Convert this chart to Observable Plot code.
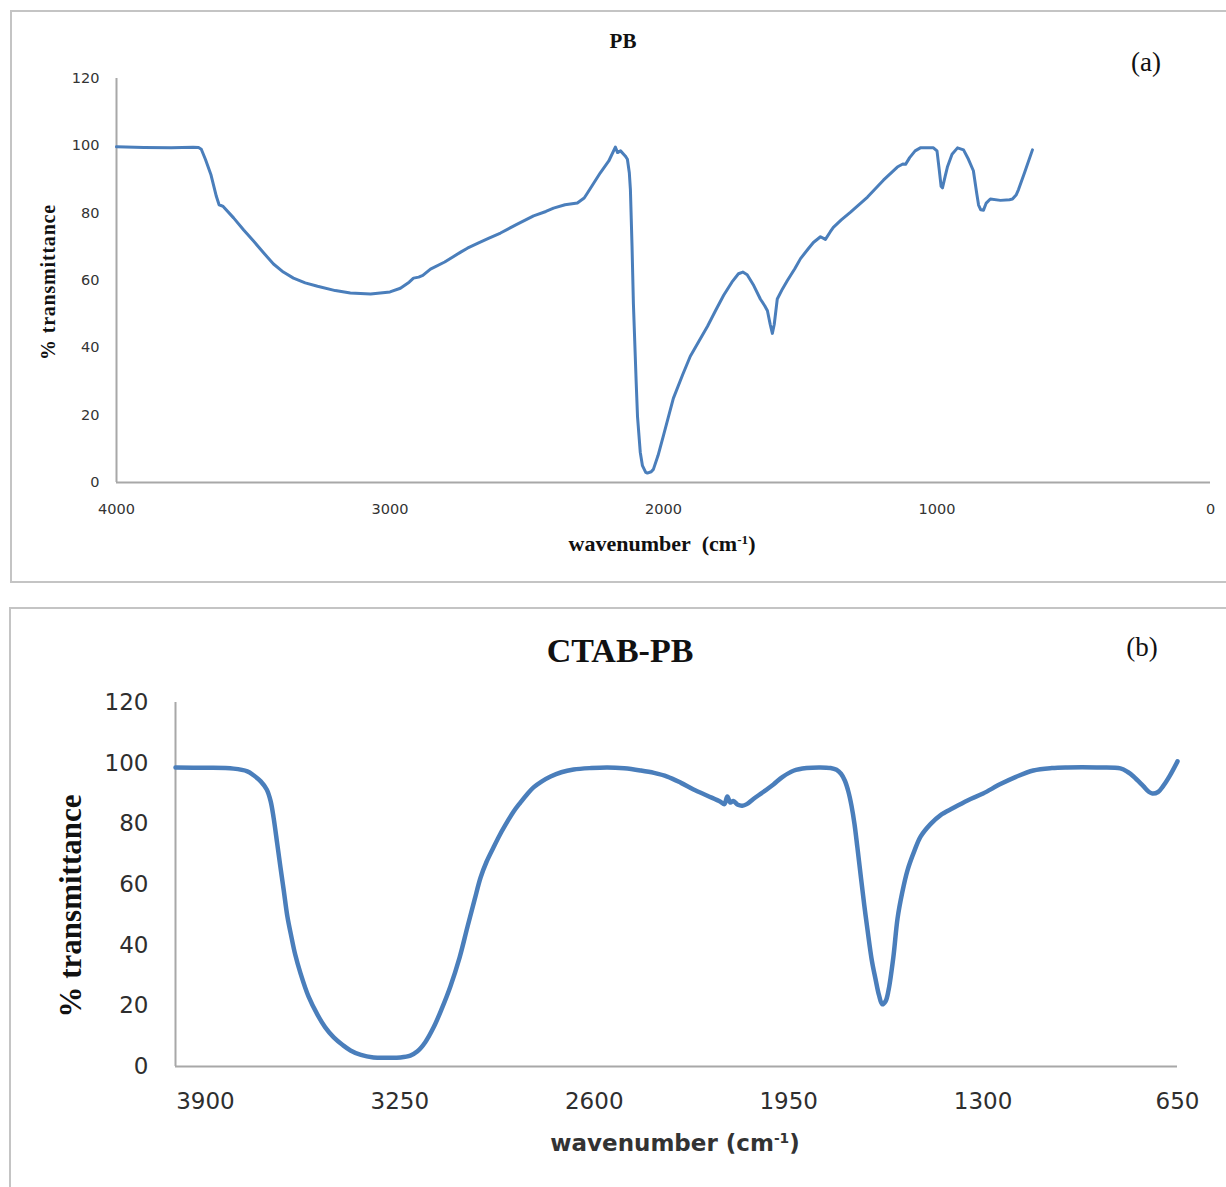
<!DOCTYPE html>
<html>
<head>
<meta charset="utf-8">
<script src="https://cdn.jsdelivr.net/npm/d3@7"></script>
<script src="https://cdn.jsdelivr.net/npm/@observablehq/plot@0.6"></script>
<style>
  html, body { margin: 0; padding: 0; background: #fff; }
  #page { position: relative; width: 1226px; height: 1187px; overflow: hidden; background: #fff; }
  .frame { position: absolute; border: 2px solid #c4c4c4; box-sizing: border-box; }
  .plot { position: absolute; left: 0; }
  .t { position: absolute; transform: translate(-50%, -50%); white-space: nowrap; line-height: 1; color: #111; }
  .serif { font-family: "Liberation Serif", "DejaVu Serif", serif; }
  .sans { font-family: "DejaVu Sans", sans-serif; }
  sup { font-size: 0.6em; vertical-align: 0.55em; line-height: 0; }
</style>
</head>
<body>
<div id="page">
  <div class="frame" style="left:10px; top:10px; width:1240px; height:573px;"></div>
  <div class="frame" style="left:9px; top:607px; width:1240px; height:620px;"></div>
  <div id="plotA" class="plot" style="top:0px;"></div>
  <div id="plotB" class="plot" style="top:595px;"></div>

  <div class="t serif" style="left:623px; top:41px; font-size:21px; font-weight:bold;">PB</div>
  <div class="t serif" style="left:1146px; top:62px; font-size:27px;">(a)</div>
  <div class="t serif" style="left:48px; top:282px; font-size:20px; font-weight:bold; letter-spacing:0.8px; transform:translate(-50%,-50%) rotate(-90deg);">% transmittance</div>
  <div class="t serif" style="left:662px; top:544px; font-size:22px; font-weight:bold;">wavenumber&nbsp; (cm<sup>-1</sup>)</div>

  <div class="t serif" style="left:620px; top:651px; font-size:34px; font-weight:bold;">CTAB-PB</div>
  <div class="t serif" style="left:1142px; top:647px; font-size:27px;">(b)</div>
  <div class="t serif" style="left:70px; top:906px; font-size:31px; font-weight:bold; transform:translate(-50%,-50%) rotate(-90deg);">% transmittance</div>
  <div class="t sans" style="left:675px; top:1143px; font-size:23px; font-weight:bold; color:#333;">wavenumber (cm<sup>-1</sup>)</div>
</div>
<script>
// ---------- Data ----------
const yTicks = [0, 20, 40, 60, 80, 100, 120];
const xTicksA = [4000, 3000, 2000, 1000, 0];
const xTicksB = [3900, 3250, 2600, 1950, 1300, 650];

// PB spectrum (panel a): wavenumber (cm-1) and % transmittance
const pbWavenumber = [4000,3900,3800,3720,3700,3690,3675,3655,3635,3625,3610,3572,3535,3499,3460,3426,3390,3353,3310,3265,3200,3145,3071,3000,2962,2930,2914,2895,2880,2852,2800,2740,2717,2680,2640,2596,2540,2475,2430,2402,2360,2315,2290,2278,2231,2200,2176,2168,2157,2140,2132,2125,2121,2115,2110,2100,2095,2085,2077,2065,2059,2045,2037,2020,2000,1964,1930,1902,1870,1839,1810,1780,1750,1726,1710,1694,1670,1646,1630,1620,1610,1602,1595,1584,1565,1547,1520,1499,1470,1452,1426,1408,1390,1379,1350,1316,1254,1196,1145,1125,1115,1100,1080,1061,1013,1000,992,985,980,970,962,945,925,903,885,867,855,848,840,830,820,805,768,735,724,710,702,680,651];
const pbTransmittance = [99.7,99.5,99.4,99.6,99.5,99,96,91.5,85,82.5,82,78.6,75,71.7,68,64.9,62.5,60.7,59.3,58.3,57,56.3,56,56.6,57.7,59.5,60.7,61,61.5,63.4,65.5,68.5,69.6,71,72.5,74.1,76.5,79.2,80.5,81.5,82.5,83,84.5,86,92,95.5,99.6,98,98.5,97,96,92,87,70,53,30,19.6,9,5,3,2.8,3.2,3.9,8,14,25,32,37.5,42,46.4,51,55.6,59.5,62,62.5,61.7,58.5,54.5,52.5,51,47,44.3,47,54.5,57.5,60,63.5,66.5,69.5,71.3,73,72.2,74.5,75.8,78,80.3,84.8,89.8,93.7,94.6,94.5,96.5,98.5,99.4,99.4,98.5,93,88,87.5,91,93.7,97.5,99.4,98.8,96,92.6,86,82.4,81,80.9,83,84.2,83.8,84,84.2,85.5,87,92,98.8];

// CTAB-PB spectrum (panel b)
const ctabWavenumber = [4000,3900,3806,3760,3739,3715,3695,3682,3672,3660,3649,3638,3626,3612,3600,3582,3555,3525,3500,3471,3440,3415,3380,3338,3290,3248,3215,3191,3165,3137,3110,3081,3050,3024,3000,2980,2960,2937,2915,2890,2870,2847,2825,2803,2775,2746,2710,2669,2610,2556,2500,2446,2400,2356,2310,2268,2220,2178,2165,2155,2145,2135,2120,2105,2090,2068,2035,2001,1970,1934,1890,1844,1810,1790,1775,1762,1750,1740,1730,1720,1708,1697,1687,1672,1660,1648,1637,1626,1616,1600,1586,1570,1553,1530,1509,1475,1443,1400,1352,1300,1242,1190,1132,1070,1018,920,841,815,797,765,745,734,715,697,675,650];
const ctabTransmittance = [98.6,98.5,98.2,97.3,96,94,91.3,87.5,82,73.5,65.6,58,49.5,42.5,37,30.7,23,17,13,9.6,7,5.3,3.8,3,2.9,3,3.6,5,8,12.9,19,26.4,36,46,55,62.3,67.5,72.2,76.5,80.8,84,87,89.7,92,94,95.6,97,97.9,98.4,98.6,98.3,97.6,96.8,95.6,93.5,91.3,89.2,87.3,86.5,89,87,87.5,86.3,86,86.5,88.2,90.5,93,95.5,97.5,98.4,98.6,98.4,97.8,96.5,94.2,90.5,86,80,72,62,53,45.5,35,29,23.5,20.5,21.5,25.2,36,48.8,57.5,64.6,71,75.8,80,82.8,85.2,87.7,90,93.1,95.5,97.6,98.4,98.6,98.6,98.3,97,95.6,92.5,90.5,90,90.5,92.6,96,100.6];

// ---------- Tables ----------
const pb = pbWavenumber.map((w, i) => ({w, t: pbTransmittance[i]}));
const ctab = ctabWavenumber.map((w, i) => ({w, t: ctabTransmittance[i]}));

const lineColor = "#4a7ebb";
const axisColor = "#a8a8a8";

const plotA = Plot.plot({
  width: 1226, height: 595,
  marginLeft: 116, marginRight: 16, marginTop: 78, marginBottom: 113,
  style: {background: "transparent", fontFamily: "DejaVu Sans, sans-serif", color: "#333", overflow: "visible"},
  x: {domain: [4000, 0]},
  y: {domain: [0, 120]},
  marks: [
    Plot.ruleX([4000], {stroke: axisColor, strokeWidth: 2}),
    Plot.ruleY([0], {stroke: axisColor, strokeWidth: 2}),
    Plot.axisY(yTicks, {tickSize: 0, tickPadding: 17, label: null, fontSize: 14.5, tickFormat: d => String(d)}),
    Plot.axisX(xTicksA, {tickSize: 0, tickPadding: 21, label: null, fontSize: 14.5, tickFormat: d => String(d)}),
    Plot.line(pb, {x: "w", y: "t", stroke: lineColor, strokeWidth: 3, curve: "linear", strokeLinejoin: "round"})
  ]
});
document.getElementById("plotA").appendChild(plotA);

const plotB = Plot.plot({
  width: 1226, height: 592,
  marginLeft: 175, marginRight: 49, marginTop: 107, marginBottom: 121,
  style: {background: "transparent", fontFamily: "DejaVu Sans, sans-serif", color: "#2e2e2e", overflow: "visible"},
  x: {domain: [4000, 650]},
  y: {domain: [0, 120]},
  marks: [
    Plot.ruleX([4000], {stroke: axisColor, strokeWidth: 2}),
    Plot.ruleY([0], {stroke: axisColor, strokeWidth: 2}),
    Plot.axisY(yTicks, {tickSize: 0, tickPadding: 27, label: null, fontSize: 23, tickFormat: d => String(d)}),
    Plot.axisX(xTicksB, {tickSize: 0, tickPadding: 26, label: null, fontSize: 23, tickFormat: d => String(d)}),
    Plot.line(ctab, {x: "w", y: "t", stroke: lineColor, strokeWidth: 4.5, curve: "catmull-rom", strokeLinejoin: "round"})
  ]
});
document.getElementById("plotB").appendChild(plotB);
</script>
</body>
</html>
